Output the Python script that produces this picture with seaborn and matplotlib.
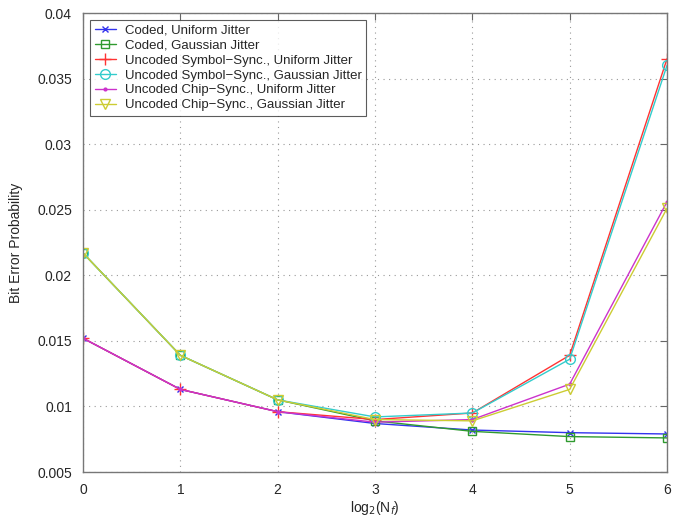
## Bit error probability vs log2(Nf)

import pandas as pd
import seaborn as sns
import matplotlib.pyplot as plt


# Données

log2_nf = [0, 1, 2, 3, 4, 5, 6]

coded_uniform = [0.0152, 0.0113, 0.0096, 0.0087, 0.0082, 0.0080, 0.0079]
coded_gaussian = [0.0217, 0.0139, 0.0105, 0.0089, 0.0081, 0.0077, 0.0076]
symbol_uniform = [0.0152, 0.0113, 0.0096, 0.0090, 0.0095, 0.0139, 0.0365]
symbol_gaussian = [0.0217, 0.0139, 0.0105, 0.0092, 0.0095, 0.0136, 0.0360]
chip_uniform = [0.0152, 0.0113, 0.0096, 0.0088, 0.0090, 0.0117, 0.0256]
chip_gaussian = [0.0217, 0.0139, 0.0105, 0.0090, 0.0089, 0.0113, 0.0251]

noms = ["Coded, Uniform Jitter",
        "Coded, Gaussian Jitter",
        "Uncoded Symbol\u2212Sync., Uniform Jitter",
        "Uncoded Symbol\u2212Sync., Gaussian Jitter",
        "Uncoded Chip\u2212Sync., Uniform Jitter",
        "Uncoded Chip\u2212Sync., Gaussian Jitter"]

series = [coded_uniform, coded_gaussian, symbol_uniform,
          symbol_gaussian, chip_uniform, chip_gaussian]

# Style des courbes (couleur, marqueur, taille, remplissage)
styles = [("#3333ee", "x", 5, "#3333ee"),
          ("#2f9a2f", "s", 6, "none"),
          ("#ff3333", "+", 8, "#ff3333"),
          ("#33cccc", "o", 7, "none"),
          ("#cc33cc", ".", 4, "#cc33cc"),
          ("#cccc33", "v", 7, "none")]

sns.set_style("white")
plt.rcParams['font.family'] = ['Liberation Sans', 'DejaVu Sans']

fig = plt.figure(figsize=(6.82, 5.23), dpi=100)
ax = fig.add_axes([0.1217, 0.0975, 0.8563, 0.8776])

for nom, valeurs, (couleur, marqueur, taille, face) in zip(noms, series, styles):
    df = pd.DataFrame({"x": log2_nf, "y": valeurs})
    sns.lineplot(data=df, x="x", y="y", ax=ax, color=couleur, marker=marqueur,
                 markersize=taille, markerfacecolor=face, markeredgecolor=couleur,
                 markeredgewidth=1.0, linewidth=1.0, label=nom)

ax.set_xlim(0, 6)
ax.set_ylim(0.005, 0.04)
ax.set_xticks(range(7))
ax.set_yticks([0.005, 0.01, 0.015, 0.02, 0.025, 0.03, 0.035, 0.04])
ax.set_yticklabels(["0.005", "0.01", "0.015", "0.02", "0.025", "0.03", "0.035", "0.04"])

ax.set_xlabel("log$_2$(N$_f$)", fontsize=10, labelpad=1)
ax.set_ylabel("Bit Error Probability", fontsize=10, labelpad=10)

ax.grid(True, linestyle=(0, (1, 4)), color="#999999", linewidth=0.8)
ax.tick_params(direction="in", top=True, right=True, length=5, color="#666666",
               labelsize=10, pad=8)
for spine in ax.spines.values():
    spine.set_color("#777777")
    spine.set_linewidth(1.0)

leg = ax.legend(loc="upper left", bbox_to_anchor=(7 / 584, 1 - 7 / 459),
                borderaxespad=0, fontsize=9.5, frameon=True, fancybox=False,
                edgecolor="#333333", handlelength=1.6, handletextpad=0.7,
                labelspacing=0.2, borderpad=0.35)
leg.get_frame().set_linewidth(0.8)

plt.savefig("out.png", dpi=100)
